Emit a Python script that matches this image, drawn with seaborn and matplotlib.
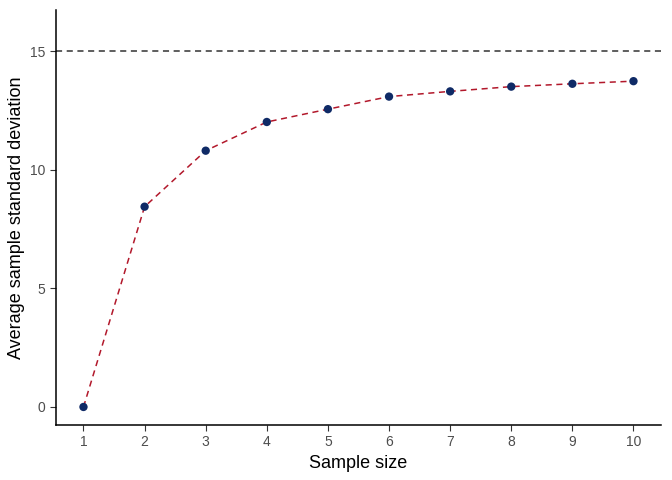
import matplotlib
matplotlib.use("Agg")
import pandas as pd
import matplotlib.pyplot as plt
import seaborn as sns

sample_size = [1, 2, 3, 4, 5, 6, 7, 8, 9, 10]
avg_sd = [0.0, 8.44, 10.80, 12.01, 12.55, 13.08, 13.30, 13.50, 13.62, 13.73]
true_sd = 15

df = pd.DataFrame({"n": sample_size, "sd": avg_sd})

sns.set_style("ticks")
plt.rcParams["font.family"] = ["Liberation Sans", "DejaVu Sans"]

fig = plt.figure(figsize=(6.72, 4.8), dpi=100)
ax = fig.add_axes([0.0833, 0.1146, 0.9003, 0.8646])

ax.axhline(true_sd, color="#333333", linestyle=(0, (4, 3)), linewidth=1.1, zorder=1)
sns.lineplot(data=df, x="n", y="sd", ax=ax, color="#b2182b", linestyle=(0, (4, 3)),
             linewidth=1.1, zorder=2)
sns.scatterplot(data=df, x="n", y="sd", ax=ax, color="#0f2a66", s=36, edgecolor="none",
                zorder=3)

ax.set_xlim(0.55, 10.45)
ax.set_ylim(-0.76, 16.73)
ax.set_xticks(sample_size)
ax.set_yticks([0, 5, 10, 15])
ax.tick_params(labelsize=10, labelcolor="#4d4d4d", color="#333333", length=4, width=0.8)
ax.set_xlabel("Sample size", fontsize=13, color="black")
ax.set_ylabel("Average sample standard deviation", fontsize=13, color="black")
for s in ["top", "right"]:
    ax.spines[s].set_visible(False)
for s in ["left", "bottom"]:
    ax.spines[s].set_color("black")
    ax.spines[s].set_linewidth(1.1)

fig.savefig("out.png", dpi=100)
